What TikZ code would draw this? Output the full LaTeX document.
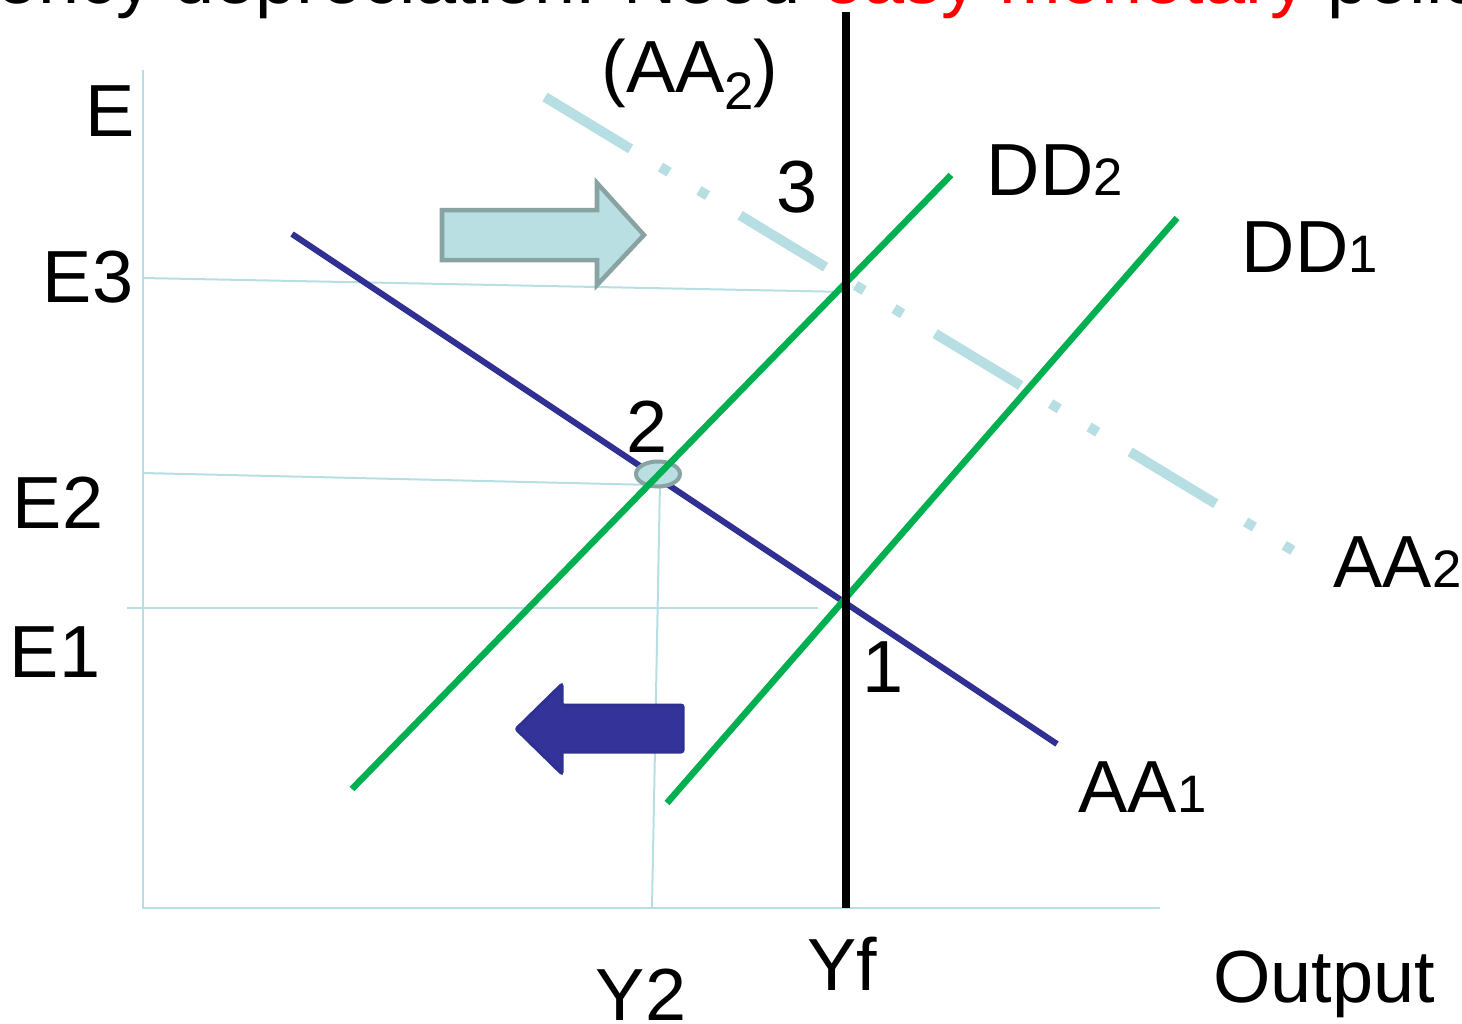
\documentclass[tikz,border=0pt]{standalone}
\usepackage{fontspec}
\setmainfont{Liberation Sans}
\usetikzlibrary{shapes.geometric}
\definecolor{guideblue}{RGB}{183,222,227}
\definecolor{aanavy}{RGB}{46,49,146}
\definecolor{ddgreen}{RGB}{0,176,80}
\definecolor{shiftfill}{RGB}{185,223,227}
\definecolor{shiftedge}{RGB}{137,163,163}
\definecolor{leftnavy}{RGB}{51,51,153}
\newcommand{\curveidx}[1]{{\fontsize{15}{18}\selectfont #1}}
\newcommand{\subidx}[1]{\raisebox{-5pt}{\fontsize{15}{18}\selectfont #1}}

\begin{document}
\begin{tikzpicture}[x=0.01cm, y=-0.01cm,
    lbl/.style={font=\fontsize{21}{25}\selectfont, inner sep=0pt},
    guide/.style={draw=guideblue, line width=0.02cm},
    aacurve/.style={draw=aanavy, line width=0.06cm},
    ddcurve/.style={draw=ddgreen, line width=0.065cm},
    shiftcurve/.style={draw=guideblue, line width=0.1cm, dash pattern=on 1cm off 0.35cm on 0.1cm off 0.35cm on 0.1cm off 0.38cm},
]
    \useasboundingbox (0,0) rectangle (1462,1023);
    \clip (0,0) rectangle (1462,1023);

    % Title (cut off at the top)
    \node[lbl, anchor=base west] (easy) at (822,3) {\textcolor{red}{easy monetary} policy};
    \node[lbl, anchor=base east] (need) at ([xshift=-0.21cm]easy.base west) {Currency depreciation: Need};

    % Axes and guide lines
    \coordinate (origin) at (143,908);
    \coordinate (ytop) at (143,70);
    \coordinate (xend) at (1160,908);
    \draw[guide] (ytop) -- (origin) -- (xend);
    \draw[guide] (143,278) -- (850,292);
    \draw[guide] (143,473) -- (655,485);
    \draw[guide] (127,608) -- (818,608);
    \draw[guide] (660,482) -- (652,908);

    % AA curves
    \coordinate (aa2a) at (545,97);
    \coordinate (aa2b) at (1297,553);
    \draw[shiftcurve] (aa2a) -- (aa2b);
    \coordinate (aa1a) at (292,234);
    \coordinate (aa1b) at (1057,744);
    \draw[aacurve] (aa1a) -- (aa1b);

    % Point 2
    \node[ellipse, draw=shiftedge, fill=shiftfill, line width=0.04cm, minimum width=0.44cm, minimum height=0.25cm, inner sep=0pt] (pt2) at (658,474) {};

    % DD curves
    \coordinate (dd2a) at (352,789);
    \coordinate (dd2b) at (951,175);
    \draw[ddcurve] (dd2a) -- (dd2b);
    \coordinate (dd1a) at (667,803);
    \coordinate (dd1b) at (1177,218);
    \draw[ddcurve] (dd1a) -- (dd1b);

    % Full employment output
    \coordinate (yftop) at (846,12);
    \coordinate (yfbot) at (846,908);
    \draw[black, line width=0.07cm] (yftop) -- (yfbot);

    % Shift arrows
    \draw[draw=shiftedge, fill=shiftfill, line width=0.045cm, line join=miter] (442,210) -- (597,210) -- (597,183) -- (644,235) -- (597,285) -- (597,260) -- (442,260) -- cycle;
    \draw[draw=aanavy, fill=leftnavy, line width=0.03cm, rounded corners=0.02cm] (683,705) -- (562,705) -- (562,684) -- (516,729) -- (562,774) -- (562,752) -- (683,752) -- cycle;

    % Labels
    \node[lbl, anchor=base] (lE) at (110,136) {E};
    \node[lbl, anchor=base] (lE3) at (88,302) {E3};
    \node[lbl, anchor=base] (lE2) at (58,528) {E2};
    \node[lbl, anchor=base] (lE1) at (55,677) {E1};
    \node[lbl, anchor=base] (laa2top) at (690,92) {(AA\subidx{2})};
    \node[lbl, anchor=base] (l3) at (797,212) {3};
    \node[lbl, anchor=base] (l2) at (647,452) {2};
    \node[lbl, anchor=base] (l1) at (883,692) {1};
    \node[lbl, anchor=base west] (ldd2) at (986,195) {DD\curveidx{2}};
    \node[lbl, anchor=base west] (ldd1) at (1241,272) {DD\curveidx{1}};
    \node[lbl, anchor=base west] (laa2) at (1333,587) {AA\curveidx{2}};
    \node[lbl, anchor=base west] (laa1) at (1078,812) {AA\curveidx{1}};
    \node[lbl, anchor=base] (lyf) at (842,990) {Yf};
    \node[lbl, anchor=base] (ly2) at (641,1020) {Y2};
    \node[lbl, anchor=base] (lout) at (1324,1002) {Output};
\end{tikzpicture}
\end{document}
